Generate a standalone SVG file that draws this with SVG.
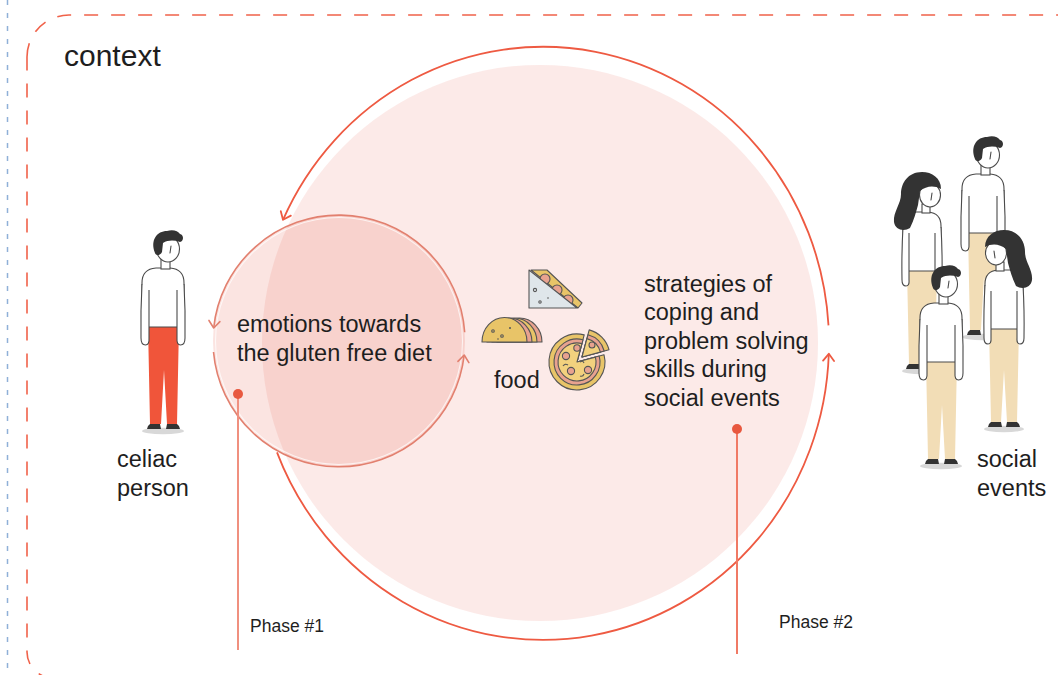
<svg xmlns="http://www.w3.org/2000/svg" width="1058" height="675" viewBox="0 0 1058 675">
  <style>
    .txt { font-family: "Liberation Sans", Arial, sans-serif; fill: #1e1e1e; }
    .body { font-size: 23.5px; }
    .phase { font-size: 17.5px; }
    .ln { fill: none; stroke: #4a4a4a; stroke-width: 1.1; stroke-linejoin: round; stroke-linecap: round; }
    .wh { fill: #ffffff; stroke: #4a4a4a; stroke-width: 1.1; }
    .hair { fill: #333333; }
    .shoe { fill: #333333; }
    .shadow { fill: #d8d8d8; }
    .pants { fill: currentColor; }
    .outer { fill: none; stroke: #ee5a42; stroke-width: 1.8; }
    .inner { fill: none; stroke: #e2806f; stroke-width: 1.6; }
    .food { stroke: #555555; stroke-width: 1.1; stroke-linejoin: round; }
  </style>
  <defs>
    <marker id="arrOuter" viewBox="-9 -7 11 14" markerWidth="11" markerHeight="14" refX="0" refY="0" orient="auto" markerUnits="userSpaceOnUse">
      <path d="M-7,-5.5 L0,0 L-7,5.5" fill="none" stroke="#ee5a42" stroke-width="1.8" stroke-linecap="round" stroke-linejoin="round"/>
    </marker>
    <marker id="arrInner" viewBox="-9 -7 11 14" markerWidth="11" markerHeight="14" refX="0" refY="0" orient="auto" markerUnits="userSpaceOnUse">
      <path d="M-7,-5.5 L0,0 L-7,5.5" fill="none" stroke="#e2806f" stroke-width="1.6" stroke-linecap="round" stroke-linejoin="round"/>
    </marker>

    <!-- standing man, origin at the feet -->
    <g id="man">
      <ellipse class="shadow" cx="0" cy="1" rx="21" ry="3.2"/>
      <path class="pants" d="M-15,-105 L16,-105 L14,-6 L4,-6 L1,-60 L-2,-6 L-13,-6 Z"/>
      <path class="shoe" d="M-13,-6 L-3,-6 L-2,-1 L-16,-1 Q-16,-4 -13,-6 Z M4,-6 L14,-6 Q17,-4 17,-1 L3,-1 Z"/>
      <path class="wh" d="M-21,-103 L-21,-147 Q-21,-161 -7,-162 L7,-162 Q21,-161 21,-147 L21,-103 Z"/>
      <path class="wh" d="M-21,-146 Q-22.5,-120 -22,-92 Q-22,-85 -17.5,-85 Q-13.5,-85 -14,-92 L-14,-140"/>
      <path class="wh" d="M21,-146 Q22.5,-120 22,-92 Q22,-85 17.5,-85 Q13.5,-85 14,-92 L14,-140"/>
      <rect class="wh" x="-2" y="-171" width="9" height="10"/>
      <ellipse class="wh" cx="5" cy="-181" rx="11.5" ry="13"/>
      <path class="hair" d="M-8,-177 C-13,-190 -6,-199 4,-199 C10,-201 15,-199 17,-196 C21,-195 21,-189 17,-188 C11,-190 5,-190 0,-187 L-1,-178 C-3,-174 -7,-174 -8,-177 Z"/>
      <path class="ln" d="M8,-184 L7,-177"/>
    </g>

    <!-- standing woman, origin at the feet -->
    <g id="woman">
      <ellipse class="shadow" cx="0" cy="1" rx="20" ry="3.2"/>
      <path class="pants" d="M-15,-101 L15,-101 L13,-6 L3,-6 L0,-58 L-3,-6 L-13,-6 Z"/>
      <path class="shoe" d="M-13,-6 L-3,-6 L-2,-1 L-16,-1 Q-16,-4 -13,-6 Z M3,-6 L13,-6 Q16,-4 16,-1 L2,-1 Z"/>
      <path class="wh" d="M-19,-99 L-19,-144 Q-19,-157 -6,-158 L6,-158 Q19,-157 19,-144 L19,-99 Z"/>
      <path class="wh" d="M-19,-143 Q-20.5,-118 -20,-90 Q-20,-84 -16,-84 Q-12.5,-84 -13,-90 L-13,-137"/>
      <path class="wh" d="M19,-143 Q20.5,-118 20,-90 Q20,-84 16,-84 Q12.5,-84 13,-90 L13,-137"/>
      <rect class="wh" x="0" y="-166" width="8" height="9"/>
      <ellipse class="wh" cx="8" cy="-175" rx="10.5" ry="12"/>
      <path class="hair" d="M19,-181 C19,-192 10,-198 0,-198 C-14,-198 -21,-187 -21,-176 C-21,-166 -29,-158 -28,-148 C-27,-140 -18,-138 -12,-142 C-8,-150 -6,-158 -4,-165 L-2,-179 C4,-184 12,-185 19,-181 Z"/>
      <path class="ln" d="M10,-177 L9,-170"/>
    </g>
  </defs>

  <!-- page guide and context frame -->
  <line x1="7.5" y1="0" x2="7.5" y2="675" stroke="#8fb0d8" stroke-width="1.5" stroke-dasharray="5 8"/>
  <path d="M27,57 A42,42 0 0 1 69,15 L1100,15 L1100,678 L53,678 A26,26 0 0 1 27,652 Z" fill="none" stroke="#f0624a" stroke-width="1.6" stroke-dasharray="14 13"/>

  <!-- circles -->
  <g id="strategies-circle">
    <circle cx="540" cy="343" r="278" fill="#e85a46" fill-opacity="0.125"/>
  </g>
  <g id="emotions-circle">
    <circle cx="339" cy="341" r="126" fill="#e85a46" fill-opacity="0.16"/>
    <circle cx="339" cy="341" r="123.5" fill="none" stroke="#ffffff" stroke-width="1.1" stroke-opacity="0.7"/>
  </g>

  <!-- connectors -->
  <g id="connectors">
    <path class="outer" d="M828.5,325.4 A286,296.5 0 0 0 283,219.8" marker-end="url(#arrOuter)"/>
    <path class="outer" d="M277,452.4 A286,296.5 0 0 0 828.8,353.8" marker-end="url(#arrOuter)"/>
    <path class="inner" d="M464.7,332.2 A126,126 0 0 0 213.7,328" marker-end="url(#arrInner)"/>
    <path class="inner" d="M213.5,352 A126,126 0 0 0 464.2,355" marker-end="url(#arrInner)"/>
    <line x1="238" y1="394" x2="238" y2="650" stroke="#f0907f" stroke-width="2"/>
    <circle cx="238" cy="394" r="5" fill="#e8583f"/>
    <line x1="737" y1="429" x2="737" y2="654" stroke="#f07a65" stroke-width="2"/>
    <circle cx="737" cy="429" r="5" fill="#e8583f"/>
  </g>

  <!-- labels -->
  <text class="txt" x="64" y="66" font-size="30">context</text>
  <g id="emotions-label">
    <text class="txt body" x="237" y="332">emotions towards</text>
    <text class="txt body" x="237" y="361">the gluten free diet</text>
  </g>
  <g id="strategies-label">
    <text class="txt body" x="644" y="291.5">strategies of</text>
    <text class="txt body" x="644" y="320">coping and</text>
    <text class="txt body" x="644" y="348.5">problem solving</text>
    <text class="txt body" x="644" y="377">skills during</text>
    <text class="txt body" x="644" y="405.5">social events</text>
  </g>
  <g id="phase-1"><text class="txt phase" x="250" y="632">Phase #1</text></g>
  <g id="phase-2"><text class="txt phase" x="779" y="627.5">Phase #2</text></g>

  <!-- celiac person -->
  <g id="celiac-person">
    <use href="#man" transform="translate(163,430)" style="color:#f0553a"/>
    <text class="txt body" x="117" y="467">celiac</text>
    <text class="txt body" x="117" y="496">person</text>
  </g>

  <!-- social events -->
  <g id="social-events">
    <use href="#man" transform="translate(983,336)" style="color:#f2ddb6"/>
    <use href="#woman" transform="translate(922,370)" style="color:#f2ddb6"/>
    <use href="#woman" transform="translate(1004,428) scale(-1,1)" style="color:#f2ddb6"/>
    <use href="#man" transform="translate(941,465)" style="color:#f2ddb6"/>
    <text class="txt body" x="977" y="467">social</text>
    <text class="txt body" x="977" y="496">events</text>
  </g>

  <!-- food -->
  <g id="food">
    <!-- sandwich -->
    <path d="M531,270 L547,270 L582,303 L578,308 Z" fill="#e8c468" class="food"/>
    <circle cx="545" cy="279" r="5" fill="#e8a28f" class="food"/>
    <circle cx="557" cy="290" r="5" fill="#e8a28f" class="food"/>
    <circle cx="568" cy="300" r="5" fill="#e8a28f" class="food"/>
    <path d="M529,270 L529,308 L577,308 Z" fill="#dfe6ea" class="food"/>
    <circle cx="535" cy="290" r="1.6" fill="none" class="food"/>
    <circle cx="540" cy="302" r="1.2" fill="none" class="food"/>
    <circle cx="548" cy="298" r="0.8" fill="#555"/>
    <!-- taco -->
    <path d="M497,342 A22.5,24 0 0 1 542,342 Z" fill="#e8a28f" class="food"/>
    <path d="M492,342 A22.5,24 0 0 1 537,342 Z" fill="#e8c468" class="food"/>
    <path d="M487,342 A22.5,24 0 0 1 532,342 Z" fill="#e8a28f" class="food"/>
    <path d="M482,342 A22.5,24.5 0 0 1 527,342 Z" fill="#e8c468" class="food"/>
    <circle cx="493" cy="331" r="1.3" fill="none" class="food"/>
    <circle cx="502" cy="336" r="1.3" fill="none" class="food"/>
    <circle cx="510" cy="328" r="1" fill="#555"/>
    <circle cx="498" cy="339" r="0.8" fill="#555"/>
    <!-- pizza -->
    <path d="M577,362 L604,354.7 A28,28 0 1 1 584.2,334.9 Z" fill="#e8c468" class="food"/>
    <path d="M577,362 L599.2,356 A23,23 0 1 1 583,339.8 Z" fill="#e8a28f" class="food"/>
    <path d="M577,362 L595.4,357.1 A19,19 0 1 1 581.9,343.6 Z" fill="#f2d17e" class="food"/>
    <circle cx="566" cy="356" r="3.6" fill="#e8a28f" class="food"/>
    <circle cx="571" cy="371" r="3.6" fill="#e8a28f" class="food"/>
    <circle cx="588" cy="370" r="3.6" fill="#e8a28f" class="food"/>
    <circle cx="577" cy="348" r="3.2" fill="#e8a28f" class="food"/>
    <path d="M563,366 q2,-3 5,-1 M580,362 q3,-2 4,1 M580,376 q3,1 4,-2" fill="none" class="food"/>
    <path d="M582,357 L589.2,329.9 A28,28 0 0 1 609,349.7 Z" fill="#e8c468" class="food"/>
    <path d="M582,357 L588,334.8 A23,23 0 0 1 604.2,351 Z" fill="#e8a28f" class="food"/>
    <path d="M582,357 L586.9,338.6 A19,19 0 0 1 600.4,352.1 Z" fill="#f2d17e" class="food"/>
    <circle cx="592" cy="345" r="3" fill="#e8a28f" class="food"/>
    <text class="txt body" x="494" y="388">food</text>
  </g>
</svg>
